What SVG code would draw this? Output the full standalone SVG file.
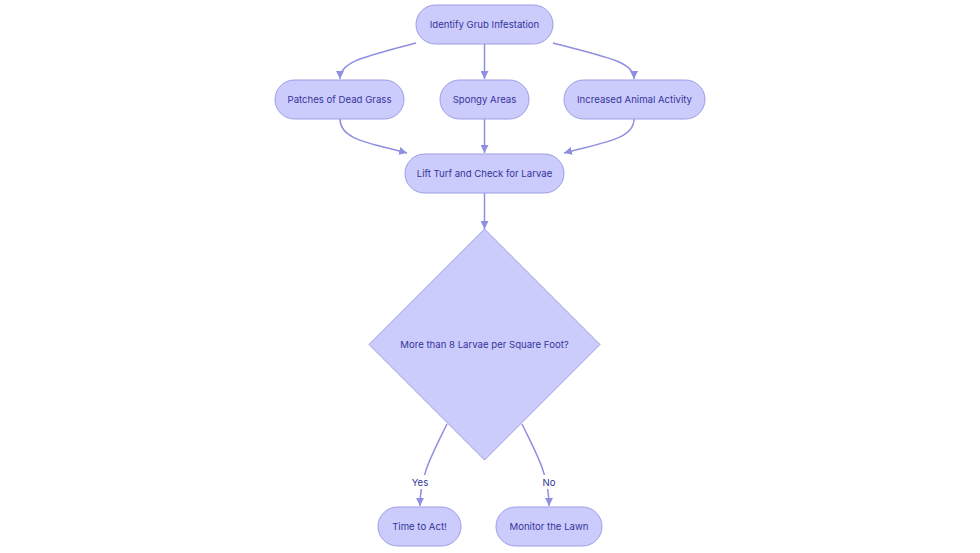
<svg xmlns="http://www.w3.org/2000/svg" width="980" height="553" viewBox="0 0 980 553">
<style>
.n{fill:#cbcbfc;stroke:#9d9de6;stroke-width:1}
.t{font-family:Inter,"Noto Sans",sans-serif;font-size:9.6px;fill:#35359a;text-anchor:middle;dominant-baseline:central}
.e{fill:none;stroke:#8f8fe0;stroke-width:1.5}
.l{font-family:Inter,"Noto Sans",sans-serif;font-size:9.6px;fill:#35359a;text-anchor:middle;dominant-baseline:central}
</style>
<defs>
<marker id="a" viewBox="0 0 10 10" refX="10" refY="5" markerWidth="8" markerHeight="8" markerUnits="userSpaceOnUse" orient="auto">
<path d="M0,0 L10,5 L0,10 z" fill="#8f8fe0"/>
</marker>
</defs>
<rect width="980" height="553" fill="#fff"/>
<g id="edges">
<path class="e" marker-end="url(#a)" d="M416,43 C360,58 340,62 340,79"/>
<path class="e" marker-end="url(#a)" d="M484.5,44 L484.5,79"/>
<path class="e" marker-end="url(#a)" d="M553,43 C610,58 634,62 634,79"/>
<path class="e" marker-end="url(#a)" d="M340,119 C340,140 370,143 407,153"/>
<path class="e" marker-end="url(#a)" d="M484.5,119 L484.5,153"/>
<path class="e" marker-end="url(#a)" d="M634,119 C634,140 600,143 564,153"/>
<path class="e" marker-end="url(#a)" d="M484.5,193 L484.5,229"/>
<path class="e" marker-end="url(#a)" d="M447,424 C432,455 420,475 420,506"/>
<path class="e" marker-end="url(#a)" d="M522,424 C537,455 549,475 549,506"/>
<rect x="410" y="475" width="20" height="14" fill="#fff"/>
<text class="l" x="420" y="482">Yes</text>
<rect x="541" y="475" width="16" height="14" fill="#fff"/>
<text class="l" x="549" y="482">No</text>
</g>
<g id="n1"><rect class="n" x="416" y="5" width="137" height="39" rx="19.5"/><text class="t" x="484.5" y="24.5">Identify Grub Infestation</text></g>
<g id="n2"><rect class="n" x="275" y="80" width="129" height="39" rx="19.5"/><text class="t" x="339.5" y="99.5">Patches of Dead Grass</text></g>
<g id="n3"><rect class="n" x="440" y="80" width="89" height="39" rx="19.5"/><text class="t" x="484.5" y="99.5">Spongy Areas</text></g>
<g id="n4"><rect class="n" x="564" y="80" width="141" height="39" rx="19.5"/><text class="t" x="634.5" y="99.5">Increased Animal Activity</text></g>
<g id="n5"><rect class="n" x="405" y="154" width="159" height="39" rx="19.5"/><text class="t" x="484.5" y="173.5">Lift Turf and Check for Larvae</text></g>
<g id="n6"><polygon class="n" points="484.5,229 600,344.5 484.5,460 369,344.5"/><text class="t" x="484.5" y="344">More than 8 Larvae per Square Foot?</text></g>
<g id="n7"><rect class="n" x="378" y="507" width="83" height="39" rx="19.5"/><text class="t" x="419.5" y="526.5">Time to Act!</text></g>
<g id="n8"><rect class="n" x="496" y="507" width="106" height="39" rx="19.5"/><text class="t" x="549" y="526.5">Monitor the Lawn</text></g>
</svg>
